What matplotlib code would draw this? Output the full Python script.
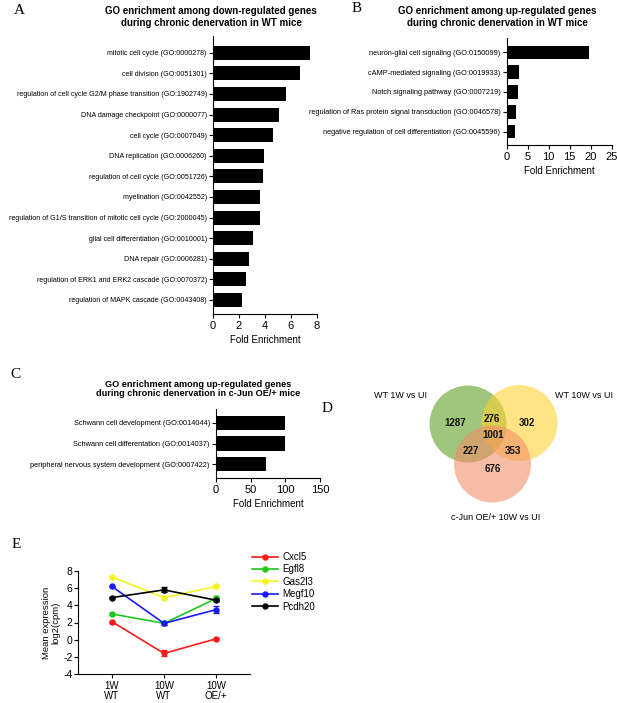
import matplotlib
matplotlib.use('Agg')
import matplotlib.pyplot as plt
from matplotlib.patches import Circle

plt.rcParams['font.family'] = ['Liberation Sans', 'DejaVu Sans']
plt.rcParams['axes.unicode_minus'] = False

W, H = 617, 703

# panel A data
a_terms = ['mitotic cell cycle (GO:0000278)',
           'cell division (GO:0051301)',
           'regulation of cell cycle G2/M phase transition (GO:1902749)',
           'DNA damage checkpoint (GO:0000077)',
           'cell cycle (GO:0007049)',
           'DNA replication (GO:0006260)',
           'regulation of cell cycle (GO:0051726)',
           'myelination (GO:0042552)',
           'regulation of G1/S transition of mitotic cell cycle (GO:2000045)',
           'glial cell differentiation (GO:0010001)',
           'DNA repair (GO:0006281)',
           'regulation of ERK1 and ERK2 cascade (GO:0070372)',
           'regulation of MAPK cascade (GO:0043408)']
a_fold = [7.45, 6.7, 5.6, 5.05, 4.65, 3.95, 3.85, 3.65, 3.6, 3.1, 2.8, 2.5, 2.25]

# panel B data
b_terms = ['neuron-glial cell signaling (GO:0150099)',
           'cAMP-mediated signaling (GO:0019933)',
           'Notch signaling pathway (GO:0007219)',
           'regulation of Ras protein signal transduction (GO:0046578)',
           'negative regulation of cell differentiation (GO:0045596)']
b_fold = [19.7, 2.9, 2.8, 2.3, 2.05]

# panel C data
c_terms = ['Schwann cell development (GO:0014044)',
           'Schwann cell differentation (GO:0014037)',
           'peripheral nervous system development (GO:0007422)']
c_fold = [99.5, 99.5, 71.5]

# panel D data (venn counts)
venn_sets = ['WT 1W vs UI', 'WT 10W vs UI', 'c-Jun OE/+ 10W vs UI']
venn_counts = {'100': 1287, '010': 302, '001': 676,
               '110': 276, '101': 227, '011': 353, '111': 1001}

# panel E data
stages = ['1W\nWT', '10W\nWT', '10W\nOE/+']
genes = ['Cxcl5', 'Egfl8', 'Gas2l3', 'Megf10', 'Pcdh20']
cxcl5 = [2.1, -1.6, 0.1]
egfl8 = [3.0, 1.9, 4.8]
gas2l3 = [7.3, 4.9, 6.2]
megf10 = [6.2, 1.9, 3.5]
pcdh20 = [4.9, 5.8, 4.6]
cxcl5_err = [0.1, 0.35, 0.15]
egfl8_err = [0.1, 0.15, 0.3]
gas2l3_err = [0.1, 0.15, 0.2]
megf10_err = [0.1, 0.15, 0.45]
pcdh20_err = [0.1, 0.3, 0.15]
gene_colors = ['#ff1a1a', '#1ec81e', '#f5f51e', '#1a1aff', '#000000']


def rect(l, t, r, b):
    return [l / W, 1 - b / H, (r - l) / W, (b - t) / H]


def fx(x):
    return x / W


def fy(y):
    return 1 - y / H


def bar_panel(ax, terms, fold, xmax, step, pad_top, pad_bot, label_size):
    n = len(terms)
    ax.barh(range(n), fold, height=0.68, color='black')
    ax.set_ylim(n - 1 + pad_bot, -pad_top)
    ax.set_xlim(0, xmax)
    ax.set_yticks(range(n))
    ax.set_yticklabels(terms, fontsize=label_size)
    ax.set_xticks(range(0, xmax + 1, step))
    ax.tick_params(axis='x', labelsize=8, length=3, width=0.8, pad=2)
    ax.tick_params(axis='y', length=3, width=0.8, pad=1.5)
    for s in ['top', 'right']:
        ax.spines[s].set_visible(False)
    for s in ['left', 'bottom']:
        ax.spines[s].set_linewidth(0.8)
    ax.set_xlabel('Fold Enrichment', fontsize=7, labelpad=3)


fig = plt.figure(figsize=(W / 100, H / 100), dpi=100)

# A
ax_a = fig.add_axes(rect(213, 36, 317, 314))
bar_panel(ax_a, a_terms, a_fold, 8, 2, 0.81, 0.68, 5.1)
fig.text(fx(211), fy(17), 'GO enrichment among down-regulated genes\nduring chronic denervation in WT mice',
         ha='center', va='center', fontsize=7, fontweight='bold', linespacing=1.15)

# B
ax_b = fig.add_axes(rect(506.7, 38, 611.7, 145))
bar_panel(ax_b, b_terms, b_fold, 25, 5, 0.72, 0.67, 5.3)
fig.text(fx(497), fy(17), 'GO enrichment among up-regulated genes\nduring chronic denervation in WT mice',
         ha='center', va='center', fontsize=7, fontweight='bold', linespacing=1.15)

# C
ax_c = fig.add_axes(rect(216, 409, 320, 478))
bar_panel(ax_c, c_terms, c_fold, 150, 50, 0.66, 0.66, 5.3)
fig.text(fx(198), fy(389), 'GO enrichment among up-regulated genes\nduring chronic denervation in c-Jun OE/+ mice',
         ha='center', va='center', fontsize=6.6, fontweight='bold', linespacing=1.0)

# D - venn
ax_d = fig.add_axes(rect(330, 370, 617, 530))
ax_d.set_xlim(330, 617)
ax_d.set_ylim(530, 370)
ax_d.axis('off')
circles = [((468, 424), 38.5, (0.36, 0.62, 0.12)),
           ((519.5, 423), 38, (1.0, 0.82, 0.18)),
           ((492.5, 464), 38.5, (0.95, 0.55, 0.40))]
for (cx, cy), r, col in circles:
    ax_d.add_patch(Circle((cx, cy), r, facecolor=col, edgecolor='none', alpha=0.58))
venn_pos = {'100': (455, 423), '010': (527, 423), '001': (493, 469),
            '110': (492, 419), '101': (471, 451), '011': (513, 451), '111': (493, 435)}
for key, (x, y) in venn_pos.items():
    ax_d.text(x, y, str(venn_counts[key]), ha='center', va='center', fontsize=7,
              fontweight='bold', color='#111111')
ax_d.text(401, 396, venn_sets[0], ha='center', va='center', fontsize=6.5)
ax_d.text(584, 396, venn_sets[1], ha='center', va='center', fontsize=6.5)
ax_d.text(496, 517, venn_sets[2], ha='center', va='center', fontsize=6.5)

# E
ax_e = fig.add_axes(rect(78, 571, 250, 674))
series = [cxcl5, egfl8, gas2l3, megf10, pcdh20]
errs = [cxcl5_err, egfl8_err, gas2l3_err, megf10_err, pcdh20_err]
xs = list(range(len(stages)))
handles = []
for g, vals, e, col in zip(genes, series, errs, gene_colors):
    ax_e.errorbar(xs, vals, yerr=e, color=col, lw=1.2, capsize=2, elinewidth=1,
                  fmt='none')
    h, = ax_e.plot(xs, vals, color=col, lw=1.2, marker='o', markersize=3.6, label=g)
    handles.append(h)
ax_e.set_xlim(-0.65, 2.65)
ax_e.set_ylim(-4, 8)
ax_e.set_yticks(range(-4, 9, 2))
ax_e.set_xticks(xs)
ax_e.set_xticklabels(stages, fontsize=7, linespacing=1.0)
ax_e.tick_params(axis='y', labelsize=7.5, length=3, width=0.8, pad=1)
ax_e.tick_params(axis='x', length=3, width=0.8, pad=2)
for s in ['top', 'right']:
    ax_e.spines[s].set_visible(False)
for s in ['left', 'bottom']:
    ax_e.spines[s].set_linewidth(0.8)
ax_e.set_ylabel('Mean expression\nlog2(cpm)', fontsize=6.8, linespacing=1.1, labelpad=2)
ax_e.legend(handles, genes, loc='upper left', bbox_to_anchor=(fx(252), fy(552)),
            bbox_transform=fig.transFigure, frameon=False, fontsize=7,
            handlelength=2.7, handletextpad=0.4, labelspacing=0.25, borderpad=0,
            borderaxespad=0)

# panel letters
for letter, x, y in [('A', 19, 11), ('B', 357, 9), ('C', 15, 375), ('D', 327, 408), ('E', 16, 544)]:
    fig.text(fx(x), fy(y), letter, ha='center', va='center', fontsize=11,
             family=['Liberation Serif', 'DejaVu Serif'])

fig.savefig('out.png', dpi=100)
